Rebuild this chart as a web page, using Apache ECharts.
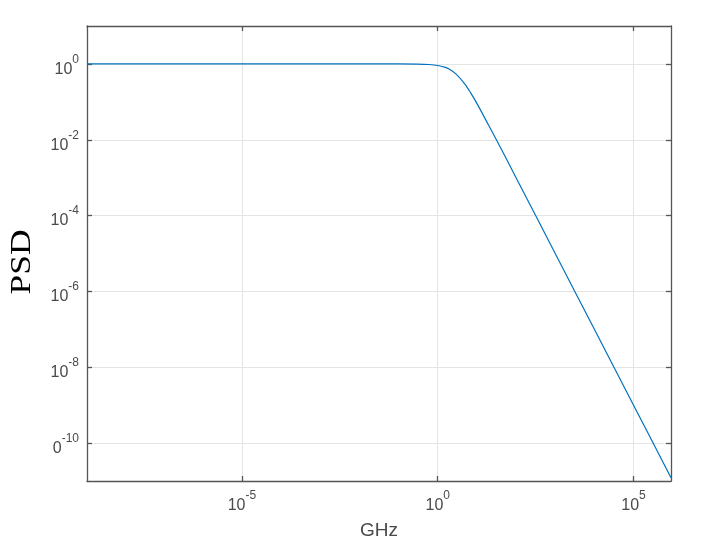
<!DOCTYPE html>
<html>
<head>
<meta charset="utf-8">
<script src="https://cdn.jsdelivr.net/npm/echarts@6/dist/echarts.min.js"></script>
<style>html,body{margin:0;padding:0;background:#fff}#c{width:702px;height:550px}</style>
</head>
<body>
<div id="c"></div>
<script>
// frequency (GHz) and PSD values
var freqGHz = [1.11e-9, 1e-7, 1e-5, 1e-3, 1e-2, 0.1, 0.3, 0.6, 1, 1.5, 2, 3, 5, 7, 10, 20, 50, 100, 1e3, 1e4, 1e5, 9.04e5];
var psd     = [1, 1, 1, 1, 1, 0.999, 0.991, 0.965, 0.91, 0.82, 0.72, 0.53, 0.29, 0.17, 0.091, 0.024, 0.004, 0.001, 1e-5, 1e-7, 1e-9, 1.22e-11];
var xTicks = [1e-5, 1, 1e5];
var yTicks = [1, 1e-2, 1e-4, 1e-6, 1e-8, 1e-10];
var yLabelBase = {'-10': '0'}; // bottom y label is drawn as "0^-10"

var axisColor = '#555555';
var gridColor = '#e4e4e4';
var labelColor = '#4a4a4a';
var fontFam = '"Liberation Sans", Arial, sans-serif';

function makeLabel(isY) {
  return function (v) {
    var e = Math.round(Math.log10(v));
    var base = (isY && yLabelBase[String(e)]) ? yLabelBase[String(e)] : '10';
    return '{b|' + base + '}{s|' + e + '}';
  };
}
var rich = {
  b: {fontSize: 16, lineHeight: 24, verticalAlign: 'bottom', color: labelColor, fontFamily: fontFam},
  s: {fontSize: 12, lineHeight: 11.5, verticalAlign: 'top', color: labelColor, fontFamily: fontFam}
};

var data = freqGHz.map(function (f, i) { return [f, psd[i]]; });
var xMin = freqGHz[0], xMax = freqGHz[freqGHz.length - 1];

function xAx(pos, labels) {
  return {
    type: 'log', logBase: 10, min: xMin, max: xMax, position: pos,
    axisLine: {show: true, lineStyle: {color: axisColor, width: 1.3}},
    axisTick: {show: true, inside: true, length: 5, customValues: xTicks, lineStyle: {color: axisColor, width: 1.3}},
    axisLabel: labels ? {show: true, customValues: xTicks, formatter: makeLabel(false), rich: rich, margin: 8.5} : {show: false},
    splitLine: {show: labels, lineStyle: {color: gridColor, width: 1}},
    minorTick: {show: false}, minorSplitLine: {show: false},
    name: labels ? 'GHz' : '', nameLocation: 'middle', nameGap: 40,
    nameTextStyle: {fontSize: 19, color: labelColor, fontFamily: fontFam}
  };
}
function yAx(pos, labels) {
  return {
    type: 'log', logBase: 10, min: 1e-11, max: 10, position: pos,
    axisLine: {show: true, lineStyle: {color: axisColor, width: 1.3}},
    axisTick: {show: true, inside: true, length: 5, customValues: yTicks, lineStyle: {color: axisColor, width: 1.3}},
    axisLabel: labels ? {show: true, customValues: yTicks, formatter: makeLabel(true), rich: rich, margin: 8, padding: [3, 0, 0, 0]} : {show: false},
    splitLine: {show: labels, lineStyle: {color: gridColor, width: 1}},
    minorTick: {show: false}, minorSplitLine: {show: false}
  };
}

var chart = echarts.init(document.getElementById('c'), null, {renderer: 'canvas'});
chart.setOption({
  animation: false,
  backgroundColor: '#fff',
  grid: {left: 87, top: 26, right: 31, bottom: 69, containLabel: false},
  xAxis: [xAx('bottom', true), xAx('top', false)],
  yAxis: [yAx('left', true), yAx('right', false)],
  graphic: [{
    type: 'text', x: 22.5, y: 262, rotation: Math.PI / 2, scaleX: 1.18,
    style: {text: 'PSD', fontSize: 30, fontFamily: '"Liberation Serif", "Times New Roman", serif', fill: '#000', align: 'center', verticalAlign: 'middle'}
  }],
  series: [{
    type: 'line', data: data, xAxisIndex: 0, yAxisIndex: 0,
    showSymbol: false, smooth: 0.3,
    lineStyle: {color: '#0072BD', width: 1.2},
    itemStyle: {color: '#0072BD'}
  }]
});
</script>
</body>
</html>
